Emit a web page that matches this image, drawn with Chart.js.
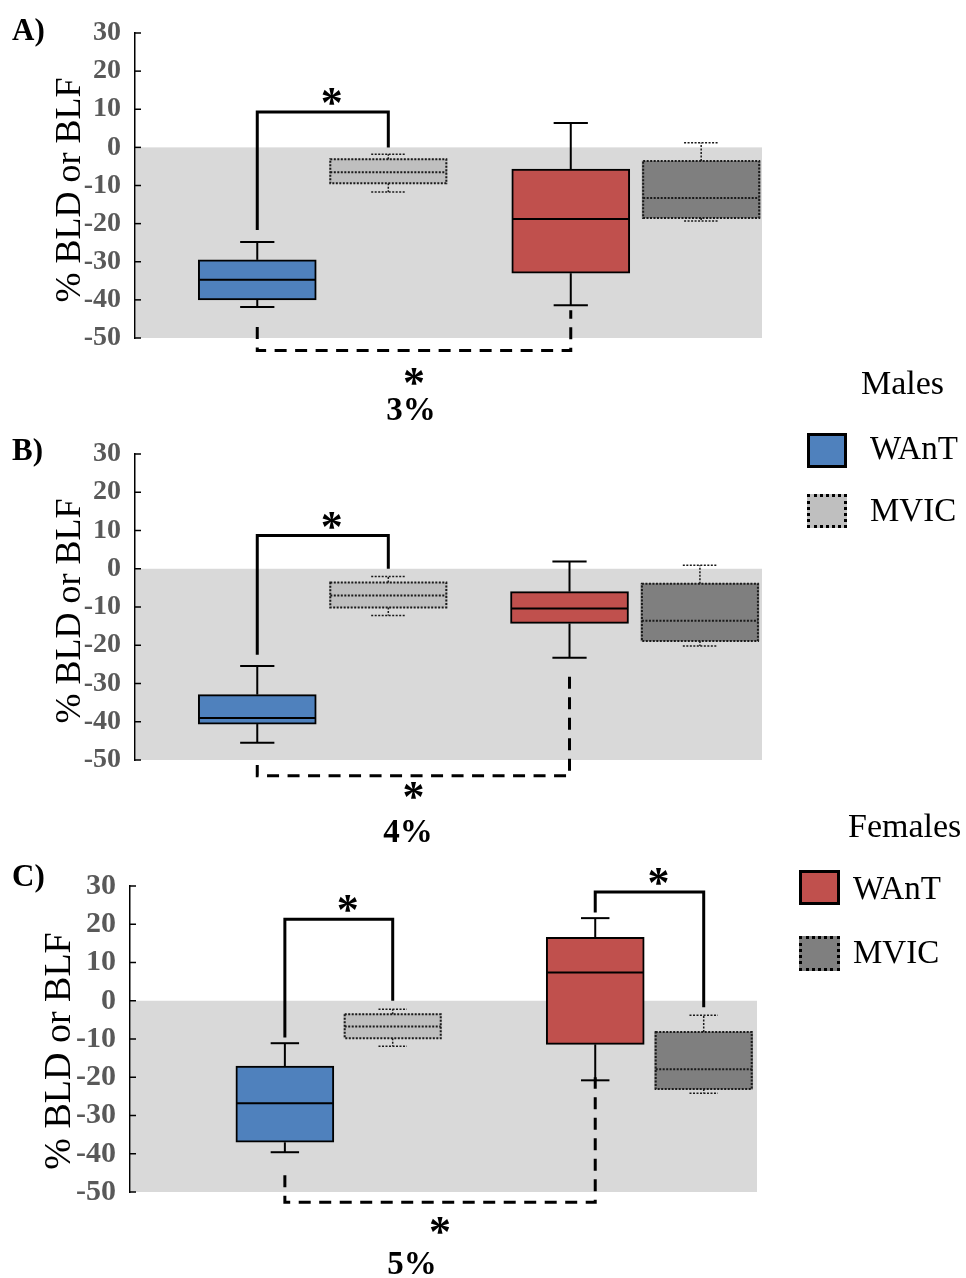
<!DOCTYPE html>
<html lang="en">
<head>
<meta charset="UTF-8">
<title>% BLD or BLF - WAnT vs MVIC</title>
<script src="https://cdn.jsdelivr.net/npm/chart.js"></script>
<style>
body { margin: 0; background: #fff; }
#page {
    position: relative;
    width: 966px;
    height: 1278px;
    overflow: hidden;
    font-family: 'Liberation Serif', 'Times New Roman', serif;
}
#page canvas { position: absolute; left: 0; }
.legend-title, .legend-text {
    position: absolute;
    line-height: 1;
    color: #000;
    white-space: nowrap;
}
.legend-title { font-size: 34px; }
.legend-text { font-size: 33px; }
.swatch {
    position: absolute;
    width: 41px;
    height: 35px;
    box-sizing: border-box;
    border: 3px solid #000;
}
.swatch.dotted { border-style: dotted; }
</style>
</head>
<body>
<div id="page">
    <canvas id="chartA" width="966" height="440" style="top:0px"></canvas>
    <canvas id="chartB" width="966" height="440" style="top:420px"></canvas>
    <canvas id="chartC" width="966" height="428" style="top:850px"></canvas>

    <div class="legend-title" style="left:861px; top:366px">Males</div>
    <div class="swatch" style="left:807px; top:433px; width:40px; background:#4F81BD"></div>
    <div class="legend-text" style="left:870px; top:432px">WAnT</div>
    <div class="swatch dotted" style="left:807px; top:494px; width:40px; height:34px; background:#BFBFBF"></div>
    <div class="legend-text" style="left:870px; top:494px">MVIC</div>

    <div class="legend-title" style="left:848px; top:809px">Females</div>
    <div class="swatch" style="left:799px; top:870px; background:#C0504D"></div>
    <div class="legend-text" style="left:853px; top:872px">WAnT</div>
    <div class="swatch dotted" style="left:799px; top:936px; background:#7F7F7F"></div>
    <div class="legend-text" style="left:853px; top:936px">MVIC</div>
</div>

<script>
// ---- data ----
const yTicks = [30, 20, 10, 0, -10, -20, -30, -40, -50];
const boxNames = ['Males WAnT', 'Males MVIC', 'Females WAnT', 'Females MVIC'];

// one box per group: [min, q1, median, q3, max]
const boxesA = [
    [-41.9, -40.0, -34.7, -29.5, -24.8],
    [-11.7, -9.4, -6.5, -3.1, -1.8],
    [-41.4, -33.0, -18.8, -5.7, 6.4],
    [-19.3, -18.5, -13.3, -3.6, 1.2]
];
const boxesB = [
    [-45.5, -40.6, -39.0, -32.9, -25.4],
    [-12.2, -10.1, -7.0, -3.6, -2.0],
    [-23.3, -14.3, -10.4, -6.0, 1.9],
    [-20.2, -18.9, -13.6, -3.9, 0.9]
];
const boxesC = [
    [-39.6, -37.0, -26.8, -17.1, -11.1],
    [-11.9, -9.8, -6.7, -3.5, -2.2],
    [-20.8, -11.4, 7.4, 16.6, 21.6],
    [-24.2, -23.1, -17.9, -8.2, -3.8]
];

// significance brackets: [from box, to box, bracket level, left end, right end]
const sigA = [[0, 1, 9.3, -21.7, 0], [0, 2, -53.3, -47.1, -42.7]];
const sigB = [[0, 1, 8.7, -22.5, 0], [0, 2, -54.1, -51.3, -28.2]];
const sigC = [[0, 1, 21.3, -9.6, 0], [2, 3, 28.4, 23.1, -1.7], [0, 2, -52.7, -45.6, -20.0]];

const percentLabels = ['3%', '4%', '5%'];
const panelLabels = ['A)', 'B)', 'C)'];
const yTitle = '% BLD or BLF';

// ---- layout ----
const fills = ['#4F81BD', '#BFBFBF', '#C0504D', '#7F7F7F'];
const serif = "'Liberation Serif', 'Times New Roman', serif";

const layoutA = { padTop: 33, padBottom: 102, axisW: 135, padRight: 204, xPos: [1.95, 4.04, 6.95, 9.03],
    boxW: 118, tickSize: 28, titleSize: 36, titleX: 80, titleY: 190, labelY: 40, starBelow: 25, percentX: 411 };
const layoutB = { padTop: 34, padBottom: 100, axisW: 135, padRight: 204, xPos: [1.95, 4.04, 6.93, 9.01],
    boxW: 118, tickSize: 28, titleSize: 36, titleX: 80, titleY: 191, labelY: 40, starBelow: 14, percentX: 408 };
const layoutC = { padTop: 36, padBottom: 86, axisW: 130, padRight: 209, xPos: [2.47, 4.19, 7.42, 9.15],
    boxW: 98, tickSize: 30, titleSize: 38, titleX: 70, titleY: 201, labelY: 36, starBelow: 23, percentX: 412 };

function line(ctx, x1, y1, x2, y2) {
    ctx.beginPath();
    ctx.moveTo(x1, y1);
    ctx.lineTo(x2, y2);
    ctx.stroke();
}

function star(ctx, x, cy) {
    const size = 44;
    ctx.font = 'bold ' + size + 'px ' + serif;
    ctx.textAlign = 'center';
    ctx.textBaseline = 'alphabetic';
    ctx.fillText('*', x, cy + 0.48 * size);
}

const boxPlotPlugin = {
    id: 'boxPlot',
    beforeDatasetsDraw(chart) {
        const { ctx, chartArea: a, scales: { y } } = chart;
        const top = y.getPixelForValue(0), bottom = y.getPixelForValue(-50);
        ctx.save();
        ctx.fillStyle = '#D9D9D9';
        ctx.fillRect(a.left + 1, top, a.right - a.left - 1, bottom - top);
        ctx.restore();
    },
    afterDatasetsDraw(chart, args, opts) {
        const { ctx, chartArea: a, scales: { y } } = chart;
        const bars = chart.getDatasetMeta(0).data;
        const py = v => y.getPixelForValue(v);
        ctx.save();

        // inward tick marks
        ctx.strokeStyle = '#000';
        ctx.lineWidth = 1.5;
        y.ticks.forEach(t => line(ctx, a.left, py(t.value), a.left + 6, py(t.value)));

        bars.forEach((bar, i) => {
            const [mn, q1, md, q3, mx] = opts.boxes[i];
            const mvic = boxNames[i].endsWith('MVIC');
            const cx = bar.x, half = bar.width / 2, cap = bar.width * 0.145;
            ctx.strokeStyle = mvic ? '#1a1a1a' : '#000';
            ctx.setLineDash(mvic ? [2, 1.5] : []);
            ctx.lineWidth = mvic ? 1.5 : 2;
            line(ctx, cx, py(q3), cx, py(mx));
            line(ctx, cx - cap, py(mx), cx + cap, py(mx));
            line(ctx, cx, py(q1), cx, py(mn));
            line(ctx, cx - cap, py(mn), cx + cap, py(mn));
            ctx.lineWidth = 2;
            line(ctx, cx - half + 1, py(md), cx + half - 1, py(md));
            if (mvic) ctx.strokeRect(cx - half + 1, py(q3), bar.width - 2, py(q1) - py(q3));
        });

        // significance brackets
        ctx.fillStyle = '#000';
        ctx.strokeStyle = '#000';
        ctx.lineWidth = 3;
        opts.sig.forEach(([from, to, level, endL, endR]) => {
            const xL = bars[from].x, xR = bars[to].x;
            const below = level < y.min;
            ctx.setLineDash(below ? [12, 8.5] : []);
            ctx.beginPath();
            ctx.moveTo(xL, py(endL));
            ctx.lineTo(xL, py(level));
            ctx.lineTo(xR, py(level));
            ctx.lineTo(xR, py(endR));
            ctx.stroke();
            ctx.setLineDash([]);
            if (below) star(ctx, (xL + xR) / 2, py(level) + opts.layout.starBelow);
            else star(ctx, (xL + xR) / 2 + 9, py(level) - 16);
        });
        ctx.restore();
    },
    afterDraw(chart, args, opts) {
        const { ctx, chartArea: a } = chart;
        const L = opts.layout;
        ctx.save();
        ctx.fillStyle = '#000';
        ctx.textBaseline = 'alphabetic';

        ctx.font = 'bold 31px ' + serif;
        ctx.textAlign = 'left';
        ctx.fillText(opts.label, 12, L.labelY);

        ctx.font = 'bold 33px ' + serif;
        ctx.textAlign = 'center';
        ctx.fillText(opts.percent, L.percentX, a.bottom + 82);

        ctx.translate(L.titleX, L.titleY);
        ctx.rotate(-Math.PI / 2);
        ctx.font = L.titleSize + 'px ' + serif;
        ctx.fillText(yTitle, 0, 0);
        ctx.restore();
    }
};

function makePanel(id, boxes, sig, L, idx) {
    return new Chart(document.getElementById(id), {
        type: 'bar',
        data: {
            datasets: [{
                label: yTitle,
                data: boxes.map((b, i) => ({ x: L.xPos[i], y: [b[1], b[3]] })),
                backgroundColor: fills,
                borderColor: '#000',
                borderWidth: boxNames.map(n => n.endsWith('WAnT') ? 2 : 0),
                borderSkipped: false,
                barThickness: L.boxW
            }]
        },
        options: {
            responsive: false,
            animation: false,
            devicePixelRatio: 1,
            layout: { padding: { top: L.padTop, bottom: L.padBottom, left: 0, right: L.padRight } },
            plugins: {
                legend: { display: false },
                tooltip: { enabled: false },
                boxPlot: { boxes, sig, layout: L, label: panelLabels[idx], percent: percentLabels[idx] }
            },
            scales: {
                x: { type: 'linear', display: false, offset: false, min: 0, max: 10 },
                y: {
                    min: -50,
                    max: 30,
                    stacked: false,
                    afterBuildTicks: s => { s.ticks = yTicks.map(v => ({ value: v })); },
                    afterFit: s => { s.width = L.axisW; },
                    grid: { display: false, drawTicks: false },
                    border: { display: true, color: '#000', width: 1.5 },
                    ticks: {
                        autoSkip: false,
                        padding: 14,
                        color: '#595959',
                        font: { family: serif, size: L.tickSize, weight: 'bold' },
                        callback: v => String(v)
                    }
                }
            }
        },
        plugins: [boxPlotPlugin]
    });
}

makePanel('chartA', boxesA, sigA, layoutA, 0);
makePanel('chartB', boxesB, sigB, layoutB, 1);
makePanel('chartC', boxesC, sigC, layoutC, 2);
</script>
</body>
</html>
